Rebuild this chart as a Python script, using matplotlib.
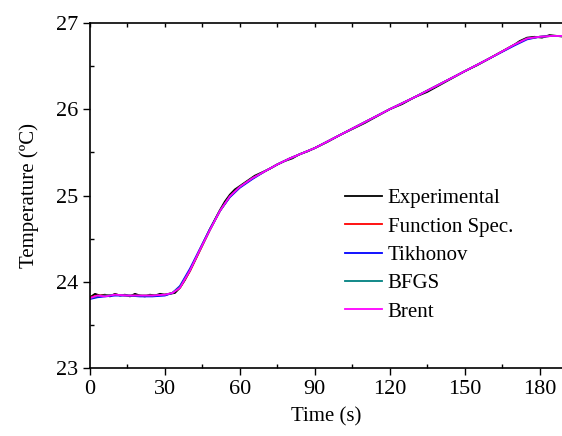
import matplotlib
matplotlib.use("Agg")
import matplotlib.pyplot as plt
from matplotlib.ticker import MultipleLocator

plt.rcParams['font.family'] = ['Liberation Serif', 'DejaVu Serif']

time_exp = [0, 2, 4, 6, 8, 10, 12, 14, 16, 18, 20, 22, 24, 26, 28, 30, 32, 34, 36, 38, 40, 42, 44, 46, 48, 50,
            52, 54, 56, 58, 60, 63, 66, 69, 72, 75, 78, 81, 84, 87, 90, 95, 100, 105, 110, 115, 120, 125, 130,
            135, 140, 145, 150, 155, 160, 165, 170, 172, 175, 178, 181, 184, 187, 190]
temp_exp = [23.82, 23.86, 23.84, 23.85, 23.83, 23.86, 23.84, 23.85, 23.83, 23.86, 23.84, 23.83, 23.85, 23.84,
            23.86, 23.85, 23.86, 23.87, 23.93, 24.02, 24.13, 24.25, 24.37, 24.49, 24.61, 24.72,
            24.83, 24.93, 25.01, 25.07, 25.11, 25.17, 25.23, 25.27, 25.31, 25.36, 25.40, 25.43, 25.48, 25.51,
            25.55, 25.62, 25.70, 25.77, 25.84, 25.92, 26.00, 26.06, 26.14, 26.20, 26.28, 26.36, 26.44, 26.51,
            26.59, 26.67, 26.75, 26.79, 26.83, 26.84, 26.83, 26.86, 26.85, 26.84]

time_fit = [0, 3, 6, 10, 15, 20, 25, 30, 33, 36, 40, 44, 48, 52, 56, 60, 65, 70, 75, 80, 85, 90, 100, 110,
            120, 130, 140, 150, 160, 170, 175, 180, 185, 190]
temp_fs = [23.82, 23.84, 23.84, 23.85, 23.84, 23.84, 23.84, 23.85, 23.87, 23.93, 24.12, 24.36, 24.60, 24.82,
           24.99, 25.10, 25.20, 25.28, 25.36, 25.43, 25.49, 25.55, 25.70, 25.85, 26.00, 26.14, 26.29, 26.44,
           26.59, 26.75, 26.82, 26.84, 26.85, 26.85]
temp_tik = [23.80, 23.82, 23.83, 23.84, 23.84, 23.83, 23.83, 23.84, 23.87, 23.95, 24.15, 24.38, 24.61, 24.82,
            24.98, 25.09, 25.19, 25.28, 25.36, 25.43, 25.49, 25.55, 25.70, 25.85, 26.00, 26.14, 26.29, 26.44,
            26.59, 26.74, 26.81, 26.84, 26.85, 26.85]
temp_bfgs = [23.81, 23.83, 23.84, 23.85, 23.84, 23.84, 23.84, 23.85, 23.87, 23.94, 24.13, 24.37, 24.60,
             24.82, 24.99, 25.10, 25.20, 25.28, 25.36, 25.43, 25.49, 25.55, 25.70, 25.85, 26.00, 26.14, 26.29,
             26.44, 26.59, 26.75, 26.82, 26.84, 26.85, 26.85]
temp_brent = [23.81, 23.84, 23.83, 23.85, 23.84, 23.84, 23.84, 23.85, 23.87, 23.93, 24.13, 24.37, 24.60,
              24.82, 24.99, 25.10, 25.20, 25.28, 25.36, 25.43, 25.49, 25.55, 25.70, 25.85, 26.00, 26.14, 26.29,
              26.44, 26.59, 26.75, 26.82, 26.84, 26.85, 26.85]

labels = ['Experimental', 'Function Spec.', 'Tikhonov', 'BFGS', 'Brent']
colors = ['#000000', '#ff0000', '#0000ff', '#008080', '#ff00ff']

fig = plt.figure(figsize=(5.62, 4.36), dpi=100)
ax = fig.add_axes([90/562, 1 - 368/436, (562-90)/562, (368-23)/436])

series = [(time_exp, temp_exp), (time_fit, temp_fs), (time_fit, temp_tik), (time_fit, temp_bfgs), (time_fit, temp_brent)]
for (t, v), lab, c in zip(series, labels, colors):
    ax.plot(t, v, color=c, lw=1.3, label=lab)

ax.set_xlim(0, 189)
ax.set_ylim(23, 27)
ax.xaxis.set_major_locator(MultipleLocator(30))
ax.xaxis.set_minor_locator(MultipleLocator(15))
ax.yaxis.set_major_locator(MultipleLocator(1))
ax.yaxis.set_minor_locator(MultipleLocator(0.5))
ax.tick_params(which='major', direction='out', length=5, width=1, labelsize=16, top=False, right=False)
ax.tick_params(which='minor', direction='in', length=3, width=1, top=False, right=False)
ax.spines['right'].set_visible(False)
for s in ['left', 'bottom', 'top']:
    ax.spines[s].set_linewidth(1.2)

sec = ax.secondary_xaxis('top')
sec.xaxis.set_major_locator(MultipleLocator(15))
sec.tick_params(direction='in', length=3, width=1, labeltop=False)
sec.spines['top'].set_visible(False)

ax.set_xlabel('Time (s)', fontsize=15, labelpad=6)
ax.set_ylabel('Temperature (ºC)', fontsize=15, labelpad=12)

leg = ax.legend(loc='upper left', bbox_to_anchor=(0.54, 0.52), frameon=False, fontsize=15,
                handlelength=1.8, handletextpad=0.25, labelspacing=0.42, borderaxespad=0,
                borderpad=0)

fig.savefig('out.png', dpi=100)
